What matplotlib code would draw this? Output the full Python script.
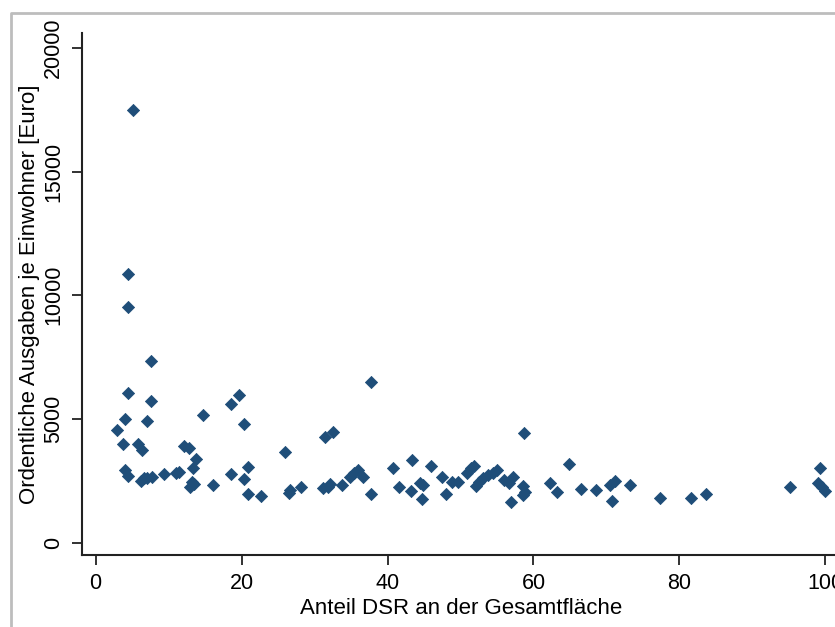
import matplotlib.pyplot as plt
from matplotlib.lines import Line2D

# Anteil DSR an der Gesamtfläche [%]
anteil = [5.1, 4.4, 4.4, 7.6, 4.4, 7.6, 4.1, 7.1, 2.9, 3.8,
          5.8, 6.3, 12.1, 12.8, 14.7, 13.8, 13.4, 4.1, 4.5, 6.2,
          6.6, 7.1, 7.7, 9.4, 11.0, 11.4, 13.2, 12.9, 13.5, 16.1,
          18.6, 19.7, 18.6, 20.4, 20.9, 20.4, 20.9, 22.7, 25.9, 26.6,
          26.5, 28.1, 31.4, 32.5, 31.2, 31.9, 32.1, 33.7, 34.9, 35.4,
          36.0, 36.7, 37.7, 37.7, 40.7, 41.6, 43.4, 43.2, 44.4, 44.9,
          44.7, 45.9, 47.4, 48.0, 48.9, 49.7, 50.9, 51.5, 51.8, 52.1,
          52.6, 53.1, 53.8, 54.5, 55.0, 55.9, 56.6, 57.2, 56.9, 58.6,
          58.8, 58.6, 58.7, 62.3, 63.2, 64.8, 66.5, 68.6, 70.5, 71.2,
          70.7, 73.2, 77.3, 81.6, 83.6, 95.2, 99.2, 99.0, 99.5, 99.9]

# Ordentliche Ausgaben je Einwohner [Euro]
ausgaben = [17500, 10850, 9520, 7360, 6040, 5740, 5000, 4930, 4560, 3980,
            3980, 3750, 3910, 3815, 5150, 3380, 3010, 2940, 2710, 2500,
            2620, 2610, 2650, 2780, 2800, 2870, 2470, 2260, 2380, 2330,
            5610, 5970, 2780, 4790, 3070, 2560, 1970, 1900, 3680, 2130,
            2020, 2260, 4260, 4490, 2200, 2260, 2370, 2330, 2670, 2800,
            2940, 2670, 6480, 1970, 3010, 2260, 3320, 2100, 2430, 2330,
            1750, 3100, 2670, 1970, 2470, 2470, 2800, 3010, 3100, 2290,
            2470, 2600, 2740, 2800, 2940, 2530, 2430, 2670, 1660, 2290,
            2060, 1930, 4420, 2400, 2040, 3170, 2170, 2130, 2330, 2510,
            1690, 2330, 1800, 1800, 1970, 2260, 3010, 2430, 2260, 2090]

xticks = [0, 20, 40, 60, 80, 100]
yticks = [0, 5000, 10000, 15000, 20000]

plt.rcParams['font.family'] = ['Liberation Sans', 'DejaVu Sans']

W, H = 835, 627
fig = plt.figure(figsize=(W / 100, H / 100), dpi=100)
fig.patch.set_facecolor('white')

# Plotbereich in Pixeln: links 82, rechts 840, oben 33, unten 555
ax = fig.add_axes([82 / W, (H - 555) / H, (840 - 82) / W, (555 - 33) / H])
ax.scatter(anteil, ausgaben, marker='D', s=38, color='#1f4e79',
           edgecolors='#1f4e79', linewidths=0.6, zorder=3, clip_on=False)

ax.set_xlim(-1.86, 102.0)
ax.set_ylim(-500, 20600)
ax.set_xticks(xticks)
ax.set_yticks(yticks)
ax.set_xticklabels([str(v) for v in xticks], fontsize=15.5)
ax.set_yticklabels([str(v) for v in yticks], fontsize=15.5, rotation=90, va='center')

for side in ['top', 'right']:
    ax.spines[side].set_visible(False)
for side in ['left', 'bottom']:
    ax.spines[side].set_linewidth(1.5)
    ax.spines[side].set_color('#222222')
ax.tick_params(axis='both', length=7, width=1.3, color='#222222', pad=6)

ax.set_xlabel('Anteil DSR an der Gesamtfläche', fontsize=16, labelpad=3)
fig.text(30 / W, 1 - 294 / H, 'Ordentliche Ausgaben je Einwohner [Euro]',
         rotation=90, ha='center', va='center', fontsize=16)

# grauer Rahmen oben und links
fig.add_artist(Line2D([11 / W, 11 / W, 1], [0, 1 - 13 / H, 1 - 13 / H],
                      transform=fig.transFigure, color='#bdbdbd', linewidth=2))

plt.savefig('out.png', dpi=100)
